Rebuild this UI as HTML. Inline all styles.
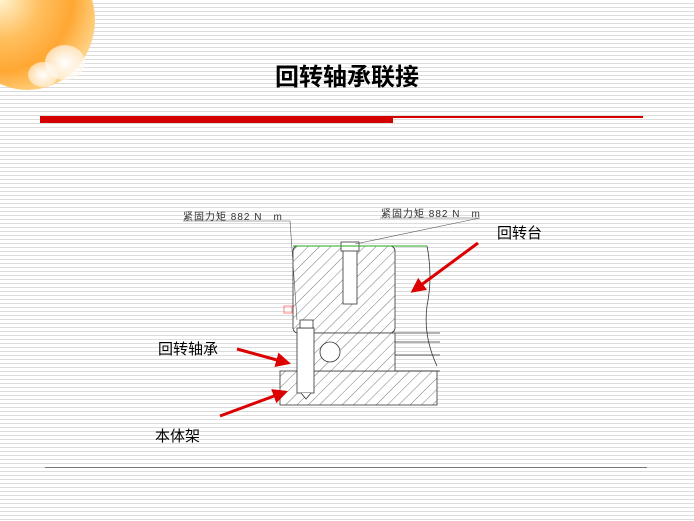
<!DOCTYPE html>
<html><head><meta charset="utf-8"><style>
html,body{margin:0;padding:0}
body{width:694px;height:521px;position:relative;overflow:hidden;background:#fff repeating-linear-gradient(to bottom,#fff 0,#fff 3px,#dcdcdc 3px,#dcdcdc 4px);font-family:"Liberation Sans","Noto Sans CJK SC",sans-serif}
.t{position:absolute;font-family:"Liberation Sans","Noto Sans CJK SC",sans-serif;color:#000}
</style></head><body>
<div style="position:absolute;left:-40px;top:-50px;width:135px;height:140px;border-radius:50%;background:radial-gradient(circle at 30% 35%,#fff3d0 0,#ffc060 30%,#ffa733 55%,#ffd58a 78%,rgba(255,255,255,0) 100%)"></div>
<div style="position:absolute;left:45px;top:45px;width:40px;height:35px;border-radius:50%;background:radial-gradient(#fff,rgba(255,240,220,0.5))"></div>
<div style="position:absolute;left:28px;top:62px;width:30px;height:25px;border-radius:50%;background:radial-gradient(#fff,rgba(255,240,220,0.4))"></div>
<div class="t" style="left:0;width:694px;top:57px;text-align:center;font-size:24px;font-weight:bold;font-family:'Noto Sans CJK SC',sans-serif">回转轴承联接</div>
<div style="position:absolute;left:40px;top:116px;width:353px;height:7px;background:#d40000"></div>
<div style="position:absolute;left:393px;top:116px;width:250px;height:2px;background:#d40000"></div>
<div style="position:absolute;left:45px;top:467px;width:602px;height:1px;background:#777"></div>
<svg width="694" height="521" style="position:absolute;left:0;top:0">
<defs><pattern id="h" width="8" height="8" patternUnits="userSpaceOnUse" patternTransform="rotate(45)"><rect width="8" height="8" fill="#fff"/><line x1="0" y1="0" x2="0" y2="8" stroke="#555" stroke-width="0.8"/></pattern>
<marker id="a" markerWidth="5" markerHeight="5" refX="4" refY="2.5" orient="auto"><path d="M0,0L5,2.5L0,5z" fill="#d00"/></marker></defs>
<g stroke="#333" stroke-width="0.8">
<rect x="293" y="246" width="102" height="87" rx="5" fill="url(#h)"/>
<path d="M395 246H427 M395 333H440" fill="none"/>
<path d="M427 246 q6 30 0 60 q-4 30 10 60" fill="none"/>
<rect x="280" y="371" width="157" height="34" fill="url(#h)"/>
<path d="M305 333h90v38h-90z" fill="url(#h)"/>
<rect x="297" y="328" width="17" height="65" fill="#fff"/>
<rect x="300" y="320" width="13" height="8" fill="#fff"/>
<path d="M301 393l5 6l5-6" fill="#fff"/>
<rect x="343" y="246" width="14" height="58" fill="#fff"/>
<rect x="341" y="242" width="18" height="9" fill="#fff"/>
<circle cx="330" cy="352" r="10" fill="#fff"/>
<path d="M395 342H440 M395 355H440 M395 371H440" fill="none"/>
</g>
<path d="M293 246H427" stroke="#2a2" stroke-width="1"/>
<path d="M183 221H290L297 320 M380 218H480L355 244" stroke="#555" stroke-width="0.6" fill="none"/>
<rect x="284" y="306" width="8" height="7" fill="none" stroke="#f66" stroke-width="0.8"/>
<g stroke="#d00" stroke-width="3" fill="none">
<line x1="478" y1="243" x2="413" y2="291" marker-end="url(#a)"/>
<line x1="237" y1="349" x2="288" y2="363" marker-end="url(#a)"/>
<line x1="220" y1="416" x2="285" y2="392" marker-end="url(#a)"/>
</g>
</svg>
<div class="t" style="left:183px;top:208px;font-size:10px;color:#333;letter-spacing:1px">紧固力矩 882 N　m</div>
<div class="t" style="left:381px;top:205px;font-size:10px;color:#333;letter-spacing:1px">紧固力矩 882 N　m</div>
<div class="t" style="left:497px;top:222px;font-size:15px">回转台</div>
<div class="t" style="left:158px;top:338px;font-size:15px">回转轴承</div>
<div class="t" style="left:155px;top:425px;font-size:15px">本体架</div>
</body></html>
